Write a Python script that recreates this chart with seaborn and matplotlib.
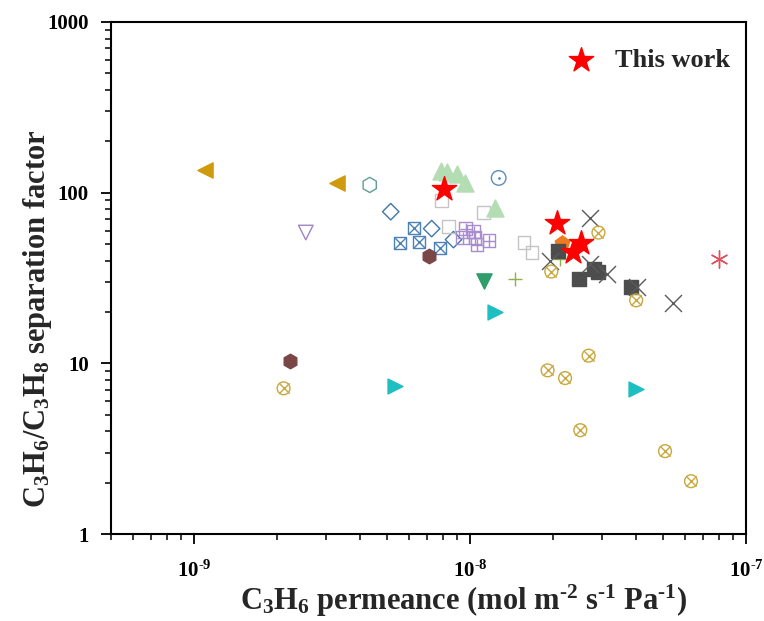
import numpy as np
import pandas as pd
import matplotlib
matplotlib.use("Agg")
import matplotlib.pyplot as plt
import seaborn as sns
from matplotlib.ticker import LogLocator, NullFormatter

sns.set_theme(style="white")
plt.rcParams['font.family'] = ['Liberation Serif', 'DejaVu Serif']
plt.rcParams['font.weight'] = 'bold'
plt.rcParams['mathtext.fontset'] = 'custom'
plt.rcParams['mathtext.rm'] = 'Liberation Serif:bold'
plt.rcParams['mathtext.it'] = 'Liberation Serif:bold'
plt.rcParams['mathtext.bf'] = 'Liberation Serif:bold'
plt.rcParams['axes.unicode_minus'] = False

# ---- data (permeance, separation factor) ----
gold_tri_x = [1.10e-9, 3.29e-9]
gold_tri_y = [136, 114]

purple_vtri_x = [2.54e-9]
purple_vtri_y = [58.4]

teal_hex_x = [4.33e-9]
teal_hex_y = [111]

blue_dia_x = [5.16e-9, 7.26e-9, 8.71e-9]
blue_dia_y = [77.4, 61.6, 53.1]

blue_boxx_x = [5.56e-9, 6.25e-9, 6.51e-9, 7.76e-9]
blue_boxx_y = [51.0, 62.4, 51.7, 47.7]

brown_hex_x = [7.08e-9, 2.22e-9]
brown_hex_y = [42.8, 10.3]

gray_sq_open_x = [7.89e-9, 8.36e-9, 1.12e-8, 1.57e-8, 1.68e-8]
gray_sq_open_y = [89.8, 63.3, 76.4, 51.0, 44.6]

purple_boxplus_x = [9.63e-9, 1.03e-8, 9.40e-9, 1.04e-8, 1.06e-8, 1.17e-8]
purple_boxplus_y = [61.6, 59.2, 54.5, 54.5, 49.6, 52.4]

green_tri_x = [7.82e-9, 8.22e-9, 8.94e-9, 9.55e-9, 1.23e-8]
green_tri_y = [134.5, 132.7, 129.2, 114.4, 81.7]

circ_dot_x = [1.27e-8]
circ_dot_y = [122]

green_vtri_x = [1.12e-8]
green_vtri_y = [30.2]

olive_plus_x = [1.46e-8, 2.11e-8]
olive_plus_y = [31.4, 40.6]

orange_pent_x = [2.16e-8]
orange_pent_y = [51.0]

dark_sq_x = [2.09e-8, 2.49e-8, 2.82e-8, 2.92e-8, 3.84e-8]
dark_sq_y = [45.8, 31.4, 35.5, 34.5, 28.2]

gray_x_x = [2.73e-8, 1.95e-8, 2.73e-8, 3.14e-8, 4.04e-8, 5.44e-8]
gray_x_y = [71.4, 40.0, 38.4, 33.6, 28.2, 22.7]

gold_cx_x = [2.92e-8, 1.97e-8, 4.00e-8, 2.11e-9, 2.69e-8, 1.91e-8, 2.21e-8, 2.51e-8, 5.09e-8, 6.32e-8]
gold_cx_y = [58.4, 34.5, 23.4, 7.14, 11.1, 9.1, 8.2, 4.06, 3.06, 2.04]

cyan_tri_x = [5.33e-9, 1.23e-8, 4.00e-8]
cyan_tri_y = [7.33, 20.1, 7.05]

red_ast_x = [7.98e-8]
red_ast_y = [40.6]

this_work_x = [8.02e-9, 2.06e-8, 2.53e-8, 2.37e-8]
this_work_y = [105.5, 66.8, 51.0, 45.2]

x_ticks = [1e-9, 1e-8, 1e-7]
x_tick_labels = ['10$^{\u20109}$', '10$^{\u20108}$', '10$^{\u20107}$']
y_ticks = [1, 10, 100, 1000]
y_tick_labels = ['1', '10', '100', '1000']

fig = plt.figure(figsize=(7.64, 6.21), dpi=100)
ax = fig.add_axes([0.1453, 0.140, 0.8311, 0.8246])


def sc(x, y, marker, s, fc, ec=None, lw=1.0, z=2):
    df = pd.DataFrame({"x": x, "y": y})
    kw = dict(data=df, x="x", y="y", marker=marker, s=s, ax=ax, zorder=z, linewidth=lw, legend=False)
    if marker in ('x', '+', (6, 2, 0)):
        kw['color'] = fc
    else:
        kw['facecolor'] = fc
        kw['edgecolor'] = ec if ec is not None else fc
    sns.scatterplot(**kw)


sc(gold_tri_x, gold_tri_y, '<', 120, '#CF9B0C')
sc(purple_vtri_x, purple_vtri_y, 'v', 110, 'none', '#9E84C6')
sc(teal_hex_x, teal_hex_y, 'h', 120, 'none', '#5F9E90')
sc(blue_dia_x, blue_dia_y, 'D', 70, 'none', '#3F76AA')
sc(blue_boxx_x, blue_boxx_y, 's', 75, 'none', '#4C80B6')
sc(blue_boxx_x, blue_boxx_y, 'x', 60, '#4C80B6', lw=1.0)
sc(brown_hex_x, brown_hex_y, 'h', 110, '#7A4646')
sc(gray_sq_open_x, gray_sq_open_y, 's', 80, 'none', '#C4C4C4')
sc(purple_boxplus_x, purple_boxplus_y, 's', 80, 'none', '#A98BD0')
sc(purple_boxplus_x, purple_boxplus_y, '+', 80, '#A98BD0', lw=1.0)
sc(green_tri_x, green_tri_y, '^', 150, '#B4DDB4')
sc(circ_dot_x, circ_dot_y, 'o', 110, 'none', '#5C8DB8')
sc(circ_dot_x, circ_dot_y, '.', 4, '#5C8DB8')
sc(green_vtri_x, green_vtri_y, 'v', 120, '#2E9E6A')
sc(olive_plus_x, olive_plus_y, '+', 110, '#8FB04A', lw=1.0)
sc(orange_pent_x, orange_pent_y, 'p', 120, '#F07A1E')
sc(dark_sq_x, dark_sq_y, 's', 95, '#4D4D4D')
sc(gray_x_x, gray_x_y, 'x', 150, '#5A5A5A', lw=1.0)
sc(gold_cx_x, gold_cx_y, 'o', 85, 'none', '#C9A83E')
sc(gold_cx_x, gold_cx_y, 'x', 55, '#C9A83E', lw=1.0)
sc(cyan_tri_x, cyan_tri_y, '>', 115, '#1DBFC2')
sc(red_ast_x, red_ast_y, (6, 2, 0), 150, '#E0505E', lw=1.0)
sc(this_work_x, this_work_y, '*', 340, '#FF0000', z=5)

ax.set_xscale('log')
ax.set_yscale('log')
ax.set_xlim(5e-10, 1e-7)
ax.set_ylim(1, 1000)

ax.xaxis.set_minor_locator(LogLocator(base=10, subs=np.arange(2, 10), numticks=20))
ax.xaxis.set_minor_formatter(NullFormatter())
ax.yaxis.set_minor_locator(LogLocator(base=10, subs=np.arange(2, 10), numticks=20))
ax.yaxis.set_minor_formatter(NullFormatter())
ax.set_xticks(x_ticks)
ax.set_xticklabels(x_tick_labels)
ax.set_yticks(y_ticks)
ax.set_yticklabels(y_tick_labels)

for sp in ax.spines.values():
    sp.set_visible(True)
    sp.set_color('black')
    sp.set_linewidth(1.5)

ax.tick_params(axis='both', which='major', direction='out', length=7, width=1.3,
               colors='black', labelsize=15, bottom=True, left=True, top=False, right=False, pad=6)
ax.tick_params(axis='both', which='minor', direction='out', length=4, width=1.1,
               colors='black', bottom=True, left=True, top=False, right=False)
ax.tick_params(axis='y', which='major', pad=9)
ax.tick_params(axis='x', which='major', pad=12)
for lab in ax.get_yticklabels() + ax.get_xticklabels():
    lab.set_fontweight('bold')

ax.set_xlabel('C$_3$H$_6$ permeance (mol m$^{\u20102}$ s$^{\u20101}$ Pa$^{\u20101}$)', fontsize=22, fontweight='bold')
ax.set_ylabel('C$_3$H$_6$/C$_3$H$_8$ separation factor', fontsize=22, fontweight='bold')
ax.xaxis.set_label_coords(0.556, -0.096)
ax.yaxis.set_label_coords(-0.09, 0.42)

ax.scatter([], [], marker='*', s=340, color='#FF0000', label='This work')
leg = ax.legend(loc='upper right', bbox_to_anchor=(1.0, 0.98), frameon=False,
                prop={'family': 'Liberation Serif', 'weight': 'bold', 'size': 19},
                handletextpad=0.3, borderaxespad=0.2, scatterpoints=1)

fig.savefig('out.png', dpi=100)
